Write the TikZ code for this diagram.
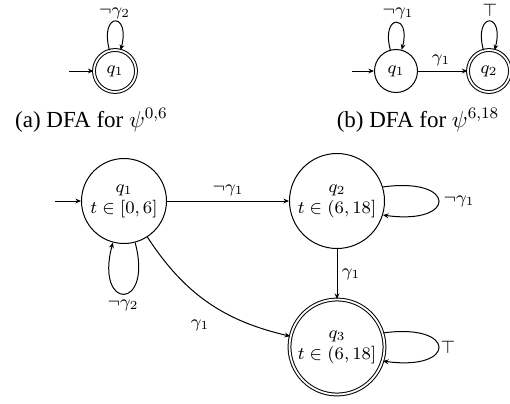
\RequirePackage{fix-cm}
\documentclass[tikz,border=0pt]{standalone}
\usepackage{fontspec}
\setmainfont{Liberation Serif}
\usetikzlibrary{arrows.meta}
\begin{document}
\begin{tikzpicture}[x=0.5pt,y=-0.5pt,
  >={Stealth[length=2.8pt,width=2.4pt]},
  line width=0.5pt,
  every node/.style={font=\fontsize{8.8}{10.5}\selectfont},
  st/.style={draw,circle,inner sep=0pt,line width=0.5pt,align=center},
  acc/.style={st,double,double distance=0.9pt},
  lab/.style={inner sep=0pt},
  captxt/.style={font=\fontsize{11.5}{14}\selectfont,anchor=base,inner sep=0pt}]
\useasboundingbox (0,0) rectangle (510,403);

% (a)
\node[acc,minimum size=21pt] (a1) at (115,71) {$q_1$};
\coordinate (a0) at (69,71);
\draw[->] (a0) -- (a1);
\draw[->] (a1.105) .. controls +(105:20pt) and +(75:20pt) .. (a1.75);
\node[lab] (la1) at (114.5,13) {$\neg\gamma_2$};
\node[captxt] (capa) at (91.5,127) {(a) DFA for $\psi^{0,6}$};

% (b)
\node[st,minimum size=21.5pt] (b1) at (396,71) {$q_1$};
\node[acc,minimum size=21pt] (b2) at (489,71) {$q_2$};
\coordinate (b0) at (352,71);
\draw[->] (b0) -- (b1);
\draw[->] (b1) -- (b2);
\draw[->] (b1.105) .. controls +(105:18.8pt) and +(75:18.8pt) .. (b1.75);
\draw[->] (b2.105) .. controls +(105:20pt) and +(75:20pt) .. (b2.75);
\node[lab] (lb1) at (398,13) {$\neg\gamma_1$};
\node[lab] (lb2) at (441,60) {$\gamma_1$};
\node[lab] (lb3) at (490,10.5) {$\top$};
\node[captxt] (capb) at (418,127) {(b) DFA for $\psi^{6,18}$};

% main
\node[st,minimum size=42.5pt] (m1) at (124,201) {$q_1$\\$t\in[0,6]$};
\node[st,minimum size=47.5pt] (m2) at (337,201) {$q_2$\\$t\in(6,18]$};
\node[acc,minimum size=47.5pt] (m3) at (337,347) {$q_3$\\$t\in(6,18]$};
\coordinate (m0) at (55,201);
\draw[->] (m0) -- (m1);
\draw[->] (m1) -- (m2);
\draw[->] (m2) -- (m3);
\draw[->] (m1) to[out=-57,in=167] (m3);
\draw[->] (m1.-75) .. controls +(-75:35.5pt) and +(-105:35.5pt) .. (m1.-105);
\draw[->] (m2.17) .. controls +(8:37.5pt) and +(-8:37.5pt) .. (m2.-17);
\draw[->] (m3.17) .. controls +(8:37.5pt) and +(-8:37.5pt) .. (m3.-17);
\node[lab] (lm1) at (228,190) {$\neg\gamma_1$};
\node[lab] (lm2) at (351,274) {$\gamma_1$};
\node[lab] (lm3) at (200,325) {$\gamma_1$};
\node[lab] (lm4) at (123,305) {$\neg\gamma_2$};
\node[lab] (lm5) at (459,201) {$\neg\gamma_1$};
\node[lab] (lm6) at (448,347) {$\top$};
\end{tikzpicture}
\end{document}
